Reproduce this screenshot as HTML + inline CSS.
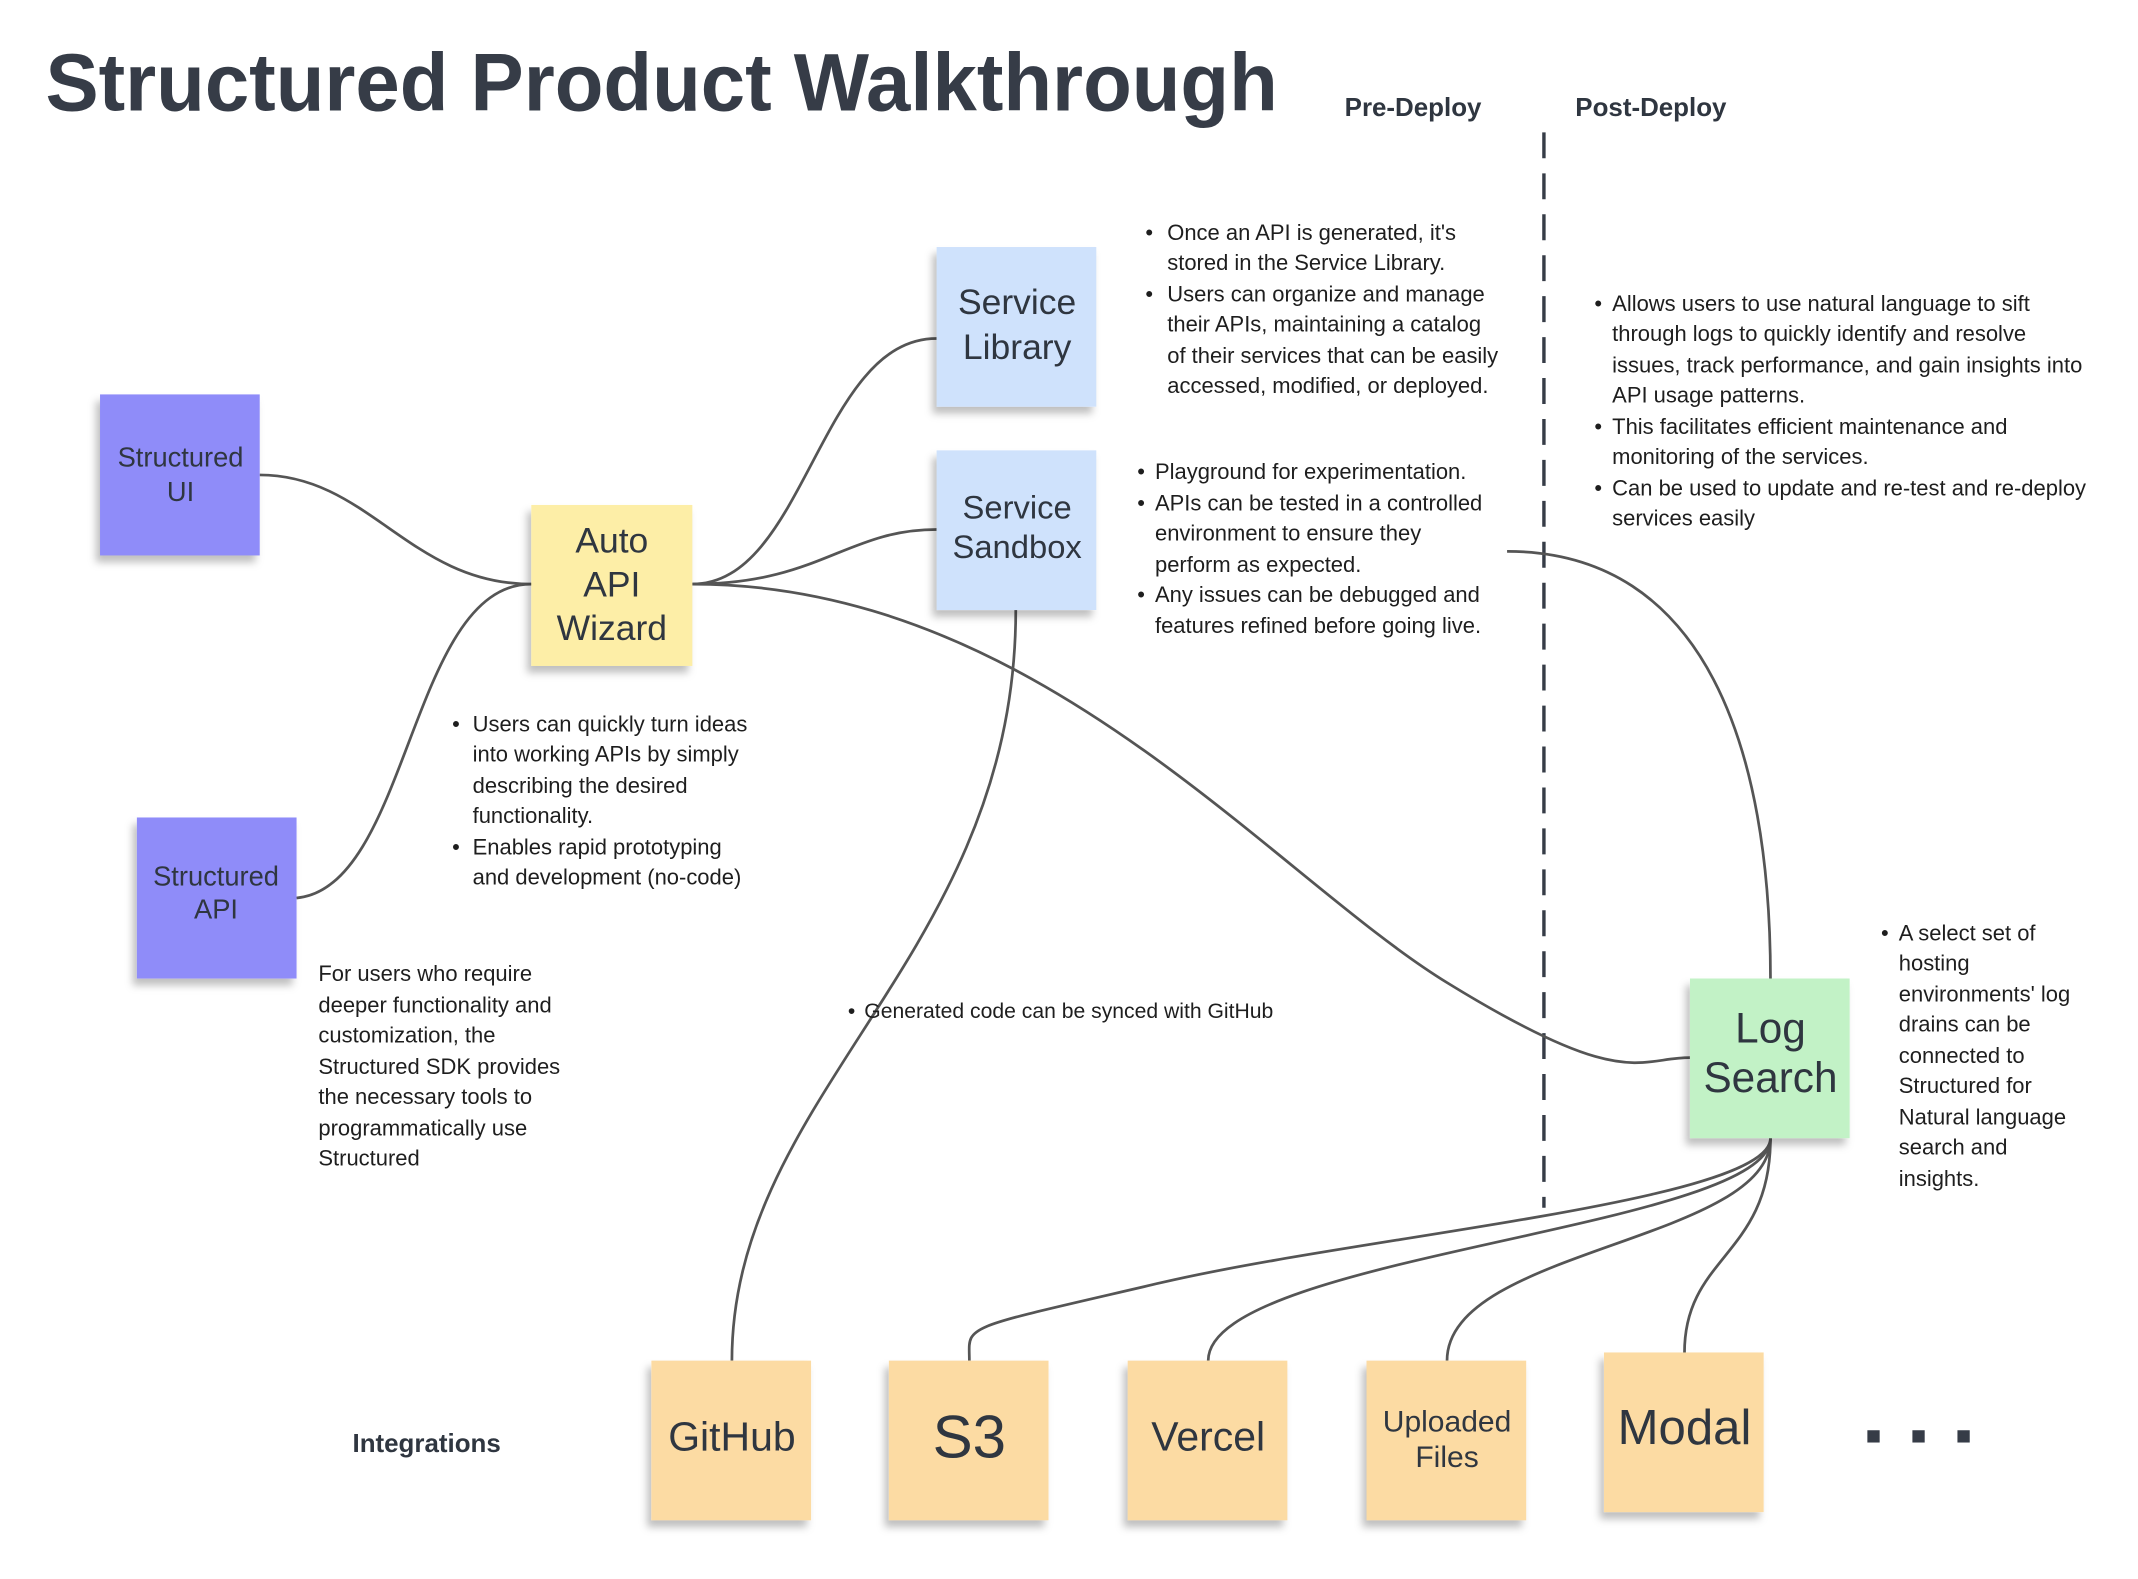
<!DOCTYPE html>
<html><head><meta charset="utf-8"><style>
html,body{margin:0;padding:0;background:#fff;}
svg{display:block;}
text{font-family:"Liberation Sans",Arial,sans-serif;fill:#2f3640;}
.n{font-size:16.1px;fill:#1e1e1e;}
.c{stroke:#555;stroke-width:2;fill:none;}
</style></head><body>
<svg width="2138" height="1579" viewBox="0 0 1566 1157" xmlns="http://www.w3.org/2000/svg">
<defs><filter id="sh" x="-20%" y="-20%" width="140%" height="150%"><feDropShadow dx="-3" dy="5" stdDeviation="3" flood-color="#000" flood-opacity="0.25"/></filter></defs>
<rect width="1566" height="1157" fill="#fff"/>
<text x="33" y="81" font-size="60" font-weight="bold" textLength="903" lengthAdjust="spacingAndGlyphs" style="fill:#363c47">Structured Product Walkthrough</text>
<text x="985" y="85" font-size="19" font-weight="bold">Pre-Deploy</text>
<text x="1154" y="85" font-size="19" font-weight="bold">Post-Deploy</text>
<line x1="1131" y1="97" x2="1131" y2="885" stroke="#363c47" stroke-width="2.5" stroke-dasharray="19,11"/>

<path class="c" d="M190,348 C270,348 300,428 389,428"/>
<path class="c" d="M217,658 C300,650 300,428 389,428"/>
<path class="c" d="M507,428 C590,428 600,248 686,248"/>
<path class="c" d="M507,428 C600,428 620,388 686,388"/>
<path class="c" d="M507,428 C760,428 930,640 1060,720 S1200,775 1238,775"/>
<path class="c" d="M744,447 C744,700 536,800 536,997"/>
<path class="c" d="M1104,404 C1250,404 1297,550 1297,717"/>
<path class="c" d="M1297,834 C1297,880 1000,905 850,940 S710,970 710,997"/>
<path class="c" d="M1297,834 C1297,900 885,920 885,997"/>
<path class="c" d="M1297,834 C1297,910 1060,915 1060,997"/>
<path class="c" d="M1297,834 C1297,920 1234,920 1234,991"/>

<g filter="url(#sh)">
<rect x="73" y="289" width="117" height="118" fill="#8f8cf9"/>
<rect x="100" y="599" width="117" height="118" fill="#8f8cf9"/>
<rect x="389" y="370" width="118" height="118" fill="#fdeea7"/>
<rect x="686" y="181" width="117" height="117" fill="#cfe2fc"/>
<rect x="686" y="330" width="117" height="117" fill="#cfe2fc"/>
<rect x="1238" y="717" width="117" height="117" fill="#c2f2c6"/>
<rect x="477" y="997" width="117" height="117" fill="#fcdba3"/>
<rect x="651" y="997" width="117" height="117" fill="#fcdba3"/>
<rect x="826" y="997" width="117" height="117" fill="#fcdba3"/>
<rect x="1001" y="997" width="117" height="117" fill="#fcdba3"/>
<rect x="1175" y="991" width="117" height="117" fill="#fcdba3"/>
</g>
<g text-anchor="middle">
<text x="132" y="342" font-size="20">Structured</text><text x="132" y="367" font-size="20">UI</text>
<text x="158" y="649" font-size="20">Structured</text><text x="158" y="673" font-size="20">API</text>
<text x="448" y="405" font-size="26">Auto</text><text x="448" y="437" font-size="26">API</text><text x="448" y="469" font-size="26">Wizard</text>
<text x="745" y="230" font-size="26">Service</text><text x="745" y="263" font-size="26">Library</text>
<text x="745" y="380" font-size="24">Service</text><text x="745" y="409" font-size="24">Sandbox</text>
<text x="1297" y="764" font-size="31">Log</text><text x="1297" y="800" font-size="31">Search</text>
<text x="536" y="1063" font-size="30">GitHub</text>
<text x="710" y="1068" font-size="44">S3</text>
<text x="885" y="1063" font-size="30">Vercel</text>
<text x="1060" y="1049" font-size="22">Uploaded</text><text x="1060" y="1075" font-size="22">Files</text>
<text x="1234" y="1058" font-size="36">Modal</text>
</g>
<rect x="1368" y="1048" width="9" height="9" fill="#363c47"/>
<rect x="1401" y="1048" width="9" height="9" fill="#363c47"/>
<rect x="1434" y="1048" width="9" height="9" fill="#363c47"/>
<text x="258" y="1064" font-size="19" font-weight="bold">Integrations</text>

<g>
<text class="n" x="839" y="176">•</text><text class="n" x="855" y="176">Once an API is generated, it's</text>
<text class="n" x="855" y="198">stored in the Service Library.</text>
<text class="n" x="839" y="221">•</text><text class="n" x="855" y="221">Users can organize and manage</text>
<text class="n" x="855" y="243">their APIs, maintaining a catalog</text>
<text class="n" x="855" y="266">of their services that can be easily</text>
<text class="n" x="855" y="288">accessed, modified, or deployed.</text>

<text class="n" x="833" y="351">•</text><text class="n" x="846" y="351">Playground for experimentation.</text>
<text class="n" x="833" y="374">•</text><text class="n" x="846" y="374">APIs can be tested in a controlled</text>
<text class="n" x="846" y="396">environment to ensure they</text>
<text class="n" x="846" y="419">perform as expected.</text>
<text class="n" x="833" y="441">•</text><text class="n" x="846" y="441">Any issues can be debugged and</text>
<text class="n" x="846" y="464">features refined before going live.</text>

<text class="n" x="1168" y="228">•</text><text class="n" x="1181" y="228">Allows users to use natural language to sift</text>
<text class="n" x="1181" y="250">through logs to quickly identify and resolve</text>
<text class="n" x="1181" y="273">issues, track performance, and gain insights into</text>
<text class="n" x="1181" y="295">API usage patterns.</text>
<text class="n" x="1168" y="318">•</text><text class="n" x="1181" y="318">This facilitates efficient maintenance and</text>
<text class="n" x="1181" y="340">monitoring of the services.</text>
<text class="n" x="1168" y="363">•</text><text class="n" x="1181" y="363">Can be used to update and re-test and re-deploy</text>
<text class="n" x="1181" y="385">services easily</text>

<text class="n" x="331" y="536">•</text><text class="n" x="346" y="536">Users can quickly turn ideas</text>
<text class="n" x="346" y="558">into working APIs by simply</text>
<text class="n" x="346" y="581">describing the desired</text>
<text class="n" x="346" y="603">functionality.</text>
<text class="n" x="331" y="626">•</text><text class="n" x="346" y="626">Enables rapid prototyping</text>
<text class="n" x="346" y="648">and development (no-code)</text>

<text class="n" x="233" y="719">For users who require</text>
<text class="n" x="233" y="742">deeper functionality and</text>
<text class="n" x="233" y="764">customization, the</text>
<text class="n" x="233" y="787">Structured SDK provides</text>
<text class="n" x="233" y="809">the necessary tools to</text>
<text class="n" x="233" y="832">programmatically use</text>
<text class="n" x="233" y="854">Structured</text>

<text class="n" x="621" y="746" style="font-size:15.5px">•</text><text class="n" x="633" y="746" style="font-size:15.5px">Generated code can be synced with GitHub</text>

<text class="n" x="1378" y="689">•</text><text class="n" x="1391" y="689">A select set of</text>
<text class="n" x="1391" y="711">hosting</text>
<text class="n" x="1391" y="734">environments' log</text>
<text class="n" x="1391" y="756">drains can be</text>
<text class="n" x="1391" y="779">connected to</text>
<text class="n" x="1391" y="801">Structured for</text>
<text class="n" x="1391" y="824">Natural language</text>
<text class="n" x="1391" y="846">search and</text>
<text class="n" x="1391" y="869">insights.</text>
</g>
</svg>
</body></html>
